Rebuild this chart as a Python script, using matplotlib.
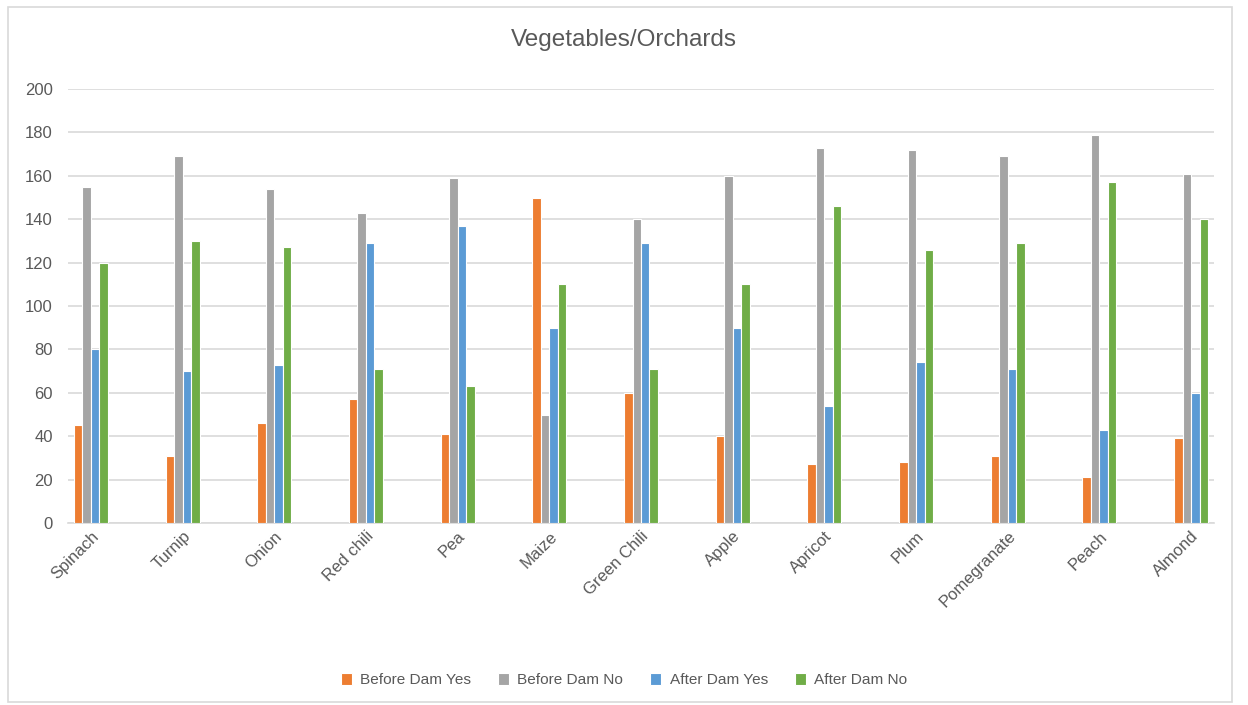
import numpy as np
import matplotlib.pyplot as plt
from matplotlib.patches import Rectangle

# crops and survey counts
crops = ['Spinach', 'Turnip', 'Onion', 'Red chili', 'Pea', 'Maize', 'Green Chili',
         'Apple', 'Apricot', 'Plum', 'Pomegranate', 'Peach', 'Almond']
before_yes = [45, 31, 46, 57, 41, 150, 60, 40, 27, 28, 31, 21, 39]
before_no = [155, 169, 154, 143, 159, 50, 140, 160, 173, 172, 169, 179, 161]
after_yes = [80, 70, 73, 129, 137, 90, 129, 90, 54, 74, 71, 43, 60]
after_no = [120, 130, 127, 71, 63, 110, 71, 110, 146, 126, 129, 157, 140]
series_names = ['Before Dam Yes', 'Before Dam No', 'After Dam Yes', 'After Dam No']
colors = ['#ED7D31', '#A5A5A5', '#5B9BD5', '#70AD47']

txt = '#595959'
plt.rcParams['font.family'] = ['Liberation Sans', 'DejaVu Sans']

fig = plt.figure(figsize=(12.48, 7.05), dpi=100)
ax = fig.add_axes([68/1248, 1-523/705, 1146/1248, 434/705])

x = np.arange(len(crops))
w = 0.0925
for k, vals in enumerate([before_yes, before_no, after_yes, after_no]):
    ax.bar(x + (k - 1.5)*w, vals, w, color=colors[k], edgecolor='white',
           linewidth=0.8, label=series_names[k], zorder=3)

ax.set_xlim(-0.25, 12.25)
ax.set_ylim(0, 200)
ax.set_yticks(range(0, 201, 20))
ax.yaxis.grid(True, color='#D9D9D9', linewidth=1.2, zorder=0)
ax.set_xticks(x)
ax.set_xticklabels(crops, rotation=45, ha='right', rotation_mode='anchor')
ax.tick_params(axis='both', length=0, colors=txt, labelsize=12)
ax.tick_params(axis='y', pad=11)
ax.tick_params(axis='x', pad=4)
for s in ['top', 'right', 'left']:
    ax.spines[s].set_visible(False)
ax.spines['bottom'].set_color('#D9D9D9')
ax.spines['bottom'].set_linewidth(1.2)

fig.text(0.5, 1-40/705, 'Vegetables/Orchards', ha='center', va='center',
         fontsize=17.5, color=txt)

fig.legend(loc='center', bbox_to_anchor=(0.5, 1-680/705), ncol=4, frameon=False,
           handlelength=0.7, handleheight=0.8, columnspacing=1.75, handletextpad=0.55,
           fontsize=11.1, labelcolor=txt)

# chart border
fig.patches.append(Rectangle((8/1248, 3/705), 1224/1248, 695/705, transform=fig.transFigure,
                             fill=False, edgecolor='#D9D9D9', linewidth=1.2))

fig.savefig('out.png', dpi=100)
